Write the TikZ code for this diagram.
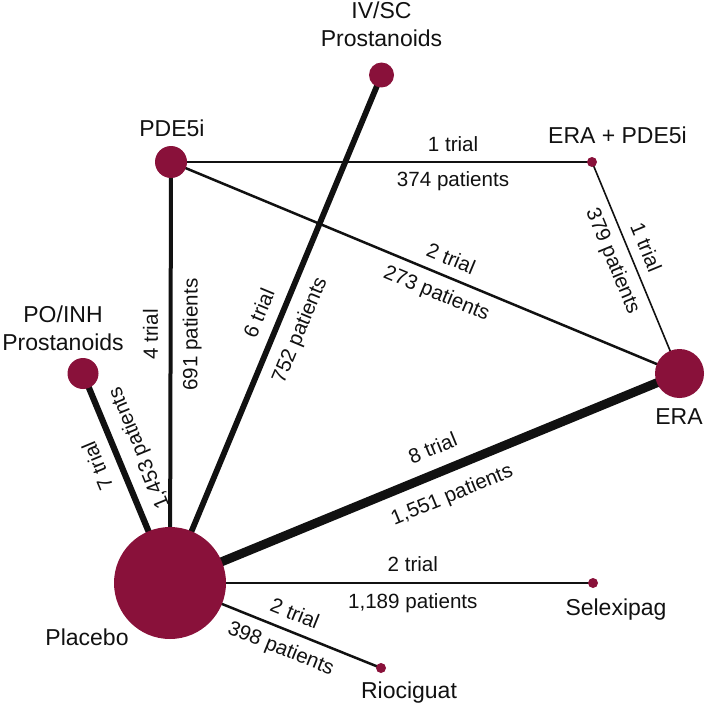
\documentclass[tikz,border=0pt]{standalone}
\usepackage{fontspec}
\setmainfont{Liberation Sans}
\definecolor{maroon}{RGB}{137,17,58}
\definecolor{ink}{RGB}{17,17,17}
\pgfdeclarelayer{bg}
\pgfsetlayers{bg,main}
\begin{document}
\begin{tikzpicture}[x=1pt,y=-1pt,
  drug/.style={circle, fill=maroon, draw=none, inner sep=0pt, minimum size=#1},
  drugname/.style={font=\fontsize{23}{28.5}\selectfont, inner sep=0pt, align=center, text=ink},
  lab/.style={font=\fontsize{20.6}{24}\selectfont, inner sep=0pt, sloped, allow upside down, text=ink},
  link/.style={draw=ink, line width=#1}]
\useasboundingbox (0,0) rectangle (704,706);
% drug circles
\node[drug=112pt] (placebo) at (170,583) {};
\node[drug=32pt]  (pde)     at (171,162) {};
\node[drug=25pt]  (ivsc)    at (381.5,75) {};
\node[drug=10pt]  (erapde)  at (592,162) {};
\node[drug=49pt]  (era)     at (679.5,373.5) {};
\node[drug=31pt]  (poinh)   at (83,373.5) {};
\node[drug=10pt]  (selex)   at (593,583) {};
\node[drug=10pt]  (rioc)    at (381,668) {};
% names
\node[drugname, anchor=south] (ivsc-n)   at (381.5,47) {IV/SC\\Prostanoids};
\node[drugname, anchor=base]  (pde-n)    at (172,136) {PDE5i};
\node[drugname, anchor=base]  (erapde-n) at (617.5,143) {ERA + PDE5i};
\node[drugname, anchor=south] (poinh-n)  at (63,351) {PO/INH\\Prostanoids};
\node[drugname, anchor=base]  (era-n)    at (679,424) {ERA};
\node[drugname, anchor=base]  (placebo-n) at (87,645) {Placebo};
\node[drugname, anchor=base]  (selex-n)  at (616,615) {Selexipag};
\node[drugname, anchor=base]  (rioc-n)   at (409,698) {Riociguat};
% connectors
\begin{pgfonlayer}{bg}
\draw[link=2pt] (pde.center) --
  node[lab, pos=.67, above=9.5pt] {1 trial}
  node[lab, pos=.67, below=9pt] {374 patients} (erapde.center);
\draw[link=1.6pt] (erapde.center) --
  node[lab, pos=.435, above=9.3pt] {1 trial}
  node[lab, pos=.435, below=8.8pt] {379 patients} (era.center);
\draw[link=2.5pt] (pde.center) --
  node[lab, pos=.537, above=9.75pt] {2 trial}
  node[lab, pos=.537, below=9.25pt] {273 patients} (era.center);
\draw[link=4pt] (placebo.center) --
  node[lab, pos=.59, above=10.5pt] {4 trial}
  node[lab, pos=.59, below=10pt] {691 patients} (pde.center);
\draw[link=5.8pt] (placebo.center) --
  node[lab, pos=.515, above=11.4pt] {6 trial}
  node[lab, pos=.515, below=10.9pt] {752 patients} (ivsc.center);
\draw[link=6.2pt] (placebo.center) --
  node[lab, pos=.60, above=11.6pt] {7 trial}
  node[lab, pos=.60, below=11.1pt] {1,453 patients} (poinh.center);
\draw[link=9pt] (placebo.center) --
  node[lab, pos=.534, above=13pt] {8 trial}
  node[lab, pos=.534, below=12.5pt] {1,551 patients} (era.center);
\draw[link=2.5pt] (placebo.center) --
  node[lab, pos=.574, above=9.75pt] {2 trial}
  node[lab, pos=.574, below=9.25pt] {1,189 patients} (selex.center);
\draw[link=2.5pt] (placebo.center) --
  node[lab, pos=.56, above=9.75pt] {2 trial}
  node[lab, pos=.56, below=9.25pt] {398 patients} (rioc.center);
\end{pgfonlayer}
\end{tikzpicture}
\end{document}
